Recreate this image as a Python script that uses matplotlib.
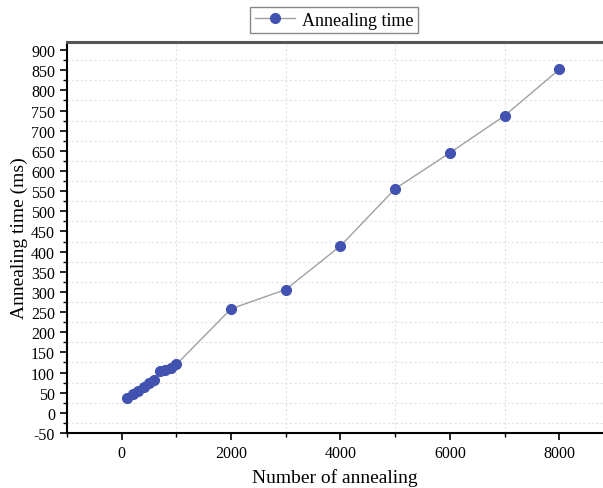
import matplotlib
matplotlib.use("Agg")
import matplotlib.pyplot as plt
from matplotlib.ticker import MultipleLocator

# data
n_anneal = [100, 200, 300, 400, 500, 600, 700, 800, 900, 1000,
            2000, 3000, 4000, 5000, 6000, 7000, 8000]
anneal_ms = [37, 46, 55, 64, 73, 82, 104, 107, 111, 120,
             258, 306, 414, 556, 645, 737, 852]

plt.rcParams["font.family"] = ["Liberation Serif", "DejaVu Serif"]
plt.rcParams["axes.unicode_minus"] = False

fig = plt.figure(figsize=(6.03, 4.89), dpi=100)
ax = fig.add_axes([0.111, 0.1125, 0.889, 0.7995])

line, = ax.plot(n_anneal, anneal_ms, "-o", color="#a0a0a0", lw=1.0,
                mfc="#4152b0", mec="#4152b0", ms=7, label="Annealing time")

ax.set_xlim(-1000, 8800)
ax.set_ylim(-50, 920)
ax.xaxis.set_major_locator(MultipleLocator(2000))
ax.xaxis.set_minor_locator(MultipleLocator(1000))
ax.yaxis.set_major_locator(MultipleLocator(50))
ax.yaxis.set_minor_locator(MultipleLocator(25))
ax.tick_params(which="major", direction="out", length=5, width=1.2, labelsize=11.5)
ax.tick_params(which="minor", direction="out", length=3, width=1.0)
ax.grid(which="minor", ls=(0, (2, 2)), color="#e2e2e2", lw=0.8)
ax.set_axisbelow(True)

ax.spines["right"].set_visible(False)
ax.spines["top"].set_linewidth(2.2)
ax.spines["top"].set_color("#555555")
ax.spines["left"].set_linewidth(1.5)
ax.spines["bottom"].set_linewidth(1.5)

ax.set_xlabel("Number of annealing", fontsize=14, labelpad=5)
ax.set_ylabel("Annealing time (ms)", fontsize=14, labelpad=2)

fig.legend(handles=[line], loc="center", bbox_to_anchor=(0.554, 0.957),
           fontsize=13, fancybox=False, edgecolor="#888888", framealpha=1,
           handlelength=2.2, borderpad=0.25, handletextpad=0.4)

fig.savefig("out.png", dpi=100)
